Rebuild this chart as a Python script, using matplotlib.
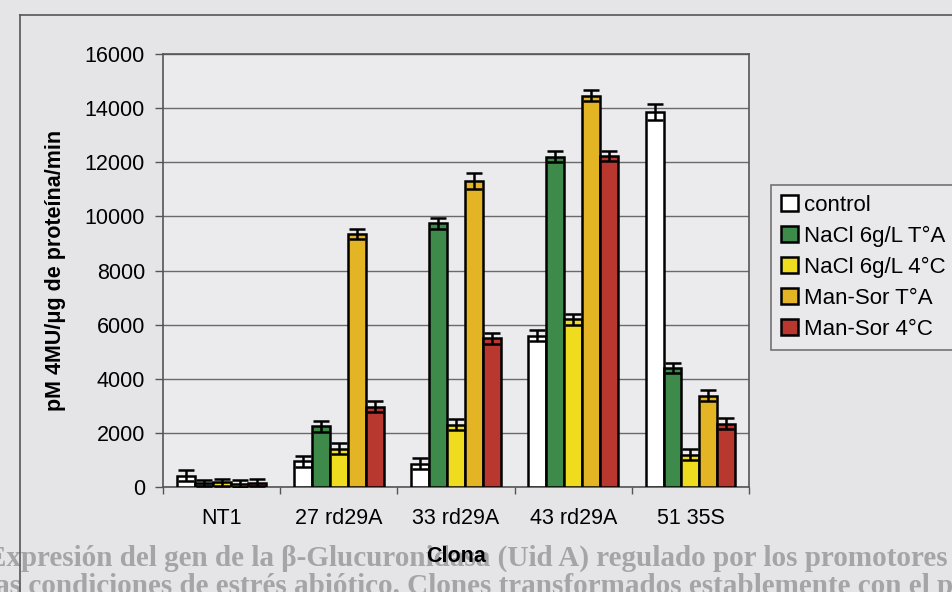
import numpy as np
import matplotlib
matplotlib.use("Agg")
import matplotlib.pyplot as plt
from matplotlib.lines import Line2D

plt.rcParams["font.family"] = ["Liberation Sans", "DejaVu Sans"]

clones = ["NT1", "27 rd29A", "33 rd29A", "43 rd29A", "51 35S"]
series = ["control", "NaCl 6g/L T°A", "NaCl 6g/L 4°C", "Man-Sor T°A", "Man-Sor 4°C"]

control = [420, 950, 870, 5600, 13850]
nacl_ta = [150, 2250, 9750, 12200, 4400]
nacl_4c = [180, 1420, 2310, 6200, 1200]
mansor_ta = [130, 9350, 11300, 14450, 3380]
mansor_4c = [170, 2980, 5500, 12230, 2350]

err_control = [200, 200, 200, 200, 300]
err_nacl_ta = [120, 200, 200, 200, 200]
err_nacl_4c = [120, 200, 200, 200, 200]
err_mansor_ta = [120, 200, 300, 200, 200]
err_mansor_4c = [120, 200, 200, 200, 200]

values = [control, nacl_ta, nacl_4c, mansor_ta, mansor_4c]
errors = [err_control, err_nacl_ta, err_nacl_4c, err_mansor_ta, err_mansor_4c]
colors = ["#ffffff", "#3d8a4a", "#f0dc1e", "#e3b423", "#b8372f"]

bg = "#e5e5e7"
fig = plt.figure(figsize=(9.53, 5.92), dpi=100, facecolor=bg)
ax = fig.add_axes([0.171, 0.177, 0.615, 0.732])
ax.set_facecolor("#ebebed")

x = np.arange(len(clones))
w = 0.153
for i, (vals, errs) in enumerate(zip(values, errors)):
    pos = x + (i - 2) * w
    ax.bar(pos, vals, width=w, color=colors[i], edgecolor="black",
           linewidth=1.8, label=series[i], zorder=3)
    ax.errorbar(pos, vals, yerr=errs, fmt="none", ecolor="black",
                elinewidth=1.8, capsize=6, capthick=1.8, zorder=4)

ax.set_xlim(-0.5, len(clones) - 0.5)
ax.set_ylim(0, 16000)
ax.set_yticks(np.arange(0, 16001, 2000))
ax.yaxis.grid(True, color="#6a6a6a", linewidth=1.0, zorder=0)
ax.tick_params(axis="y", labelsize=15.5, length=6, width=1, color="#555555", pad=7)

# category boundaries as ticks, names centred in each group
ax.set_xticks(np.arange(-0.5, len(clones) + 0.5, 1.0))
ax.set_xticklabels([])
ax.tick_params(axis="x", which="major", length=5, width=1, color="#555555")
ax.set_xticks(x, minor=True)
ax.set_xticklabels(clones, minor=True, fontsize=15.5)
ax.tick_params(axis="x", which="minor", length=0, pad=15)

for s in ax.spines.values():
    s.set_color("#555555")
    s.set_linewidth(1.2)

ax.set_ylabel("pM 4MU/\u03bcg de proteína/min", fontsize=15.5, fontweight="bold")
ax.yaxis.set_label_coords(-0.166, 0.5)
ax.set_xlabel("Clona", fontsize=15.5, fontweight="bold")
ax.xaxis.set_label_coords(0.5, -0.135)

leg = ax.legend(loc="upper left", bbox_to_anchor=(1.038, 0.698), fontsize=16,
                frameon=True, fancybox=False, edgecolor="#555555",
                facecolor="#ebebed", handlelength=0.75, handleheight=0.75,
                handletextpad=0.25, labelspacing=0.45, borderpad=0.45,
                borderaxespad=0)
leg.get_frame().set_linewidth(1.2)

# page frame of the scan
fig.add_artist(Line2D([20 / 953, 20 / 953], [0, 1 - 15 / 592],
                      transform=fig.transFigure, color="#555555", lw=1.2))
fig.add_artist(Line2D([20 / 953, 1], [1 - 15 / 592, 1 - 15 / 592],
                      transform=fig.transFigure, color="#555555", lw=1.2))

# faded caption below the chart, partly cut by the scan edges
fig.text(-0.014, 1 - 558 / 592,
         "Expresión del gen de la \u03b2-Glucuronidasa (Uid A) regulado por los promotores",
         fontsize=21, fontweight="bold", color="#a5a5a7", zorder=-1,
         family=["Liberation Serif", "DejaVu Serif"], va="center", ha="left")
fig.text(-0.014, 1 - 587 / 592,
         "las condiciones de estrés abiótico. Clones transformados establemente con el promotor",
         fontsize=21, fontweight="bold", color="#a5a5a7", zorder=-1,
         family=["Liberation Serif", "DejaVu Serif"], va="center", ha="left")

fig.savefig("out.png", dpi=100, facecolor=bg)
